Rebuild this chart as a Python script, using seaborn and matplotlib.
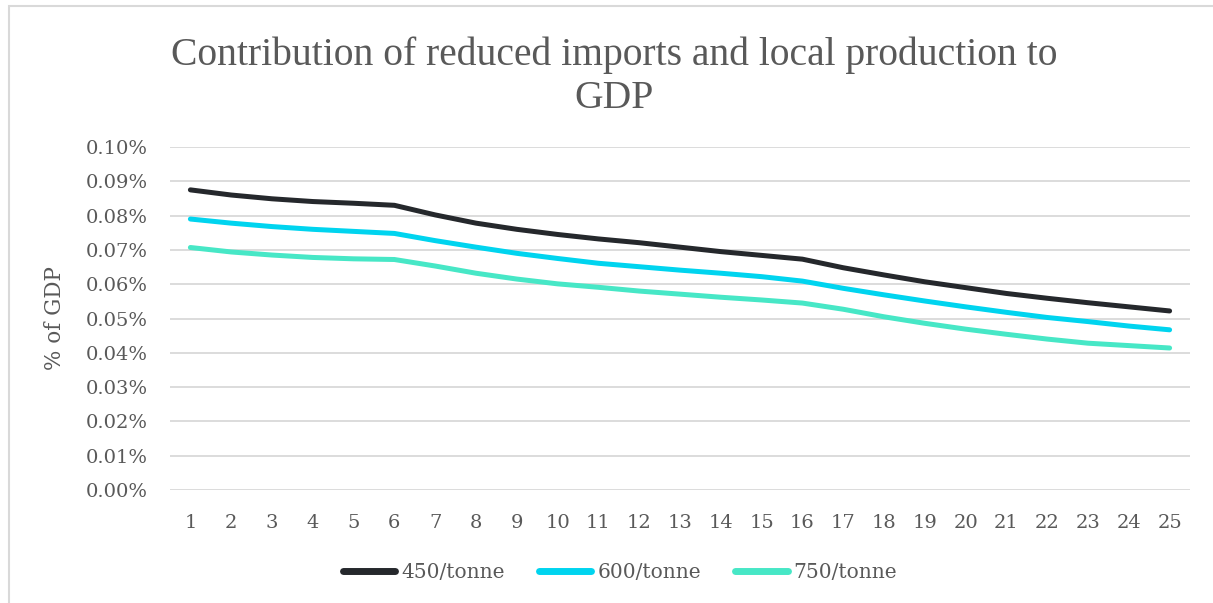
import matplotlib
matplotlib.use("Agg")
import matplotlib.pyplot as plt
import matplotlib.ticker as mticker
from matplotlib.patches import Rectangle
import pandas as pd
import seaborn as sns

# Years of the projection horizon
years = list(range(1, 26))

# Contribution to GDP (in %) under three carbon-price scenarios
price_450 = [0.0875, 0.0860, 0.0849, 0.0841, 0.0836, 0.0830, 0.0802, 0.0778, 0.0760, 0.0745,
             0.0732, 0.0721, 0.0708, 0.0695, 0.0684, 0.0673, 0.0648, 0.0627, 0.0607, 0.0590,
             0.0573, 0.0559, 0.0546, 0.0534, 0.0522]
price_600 = [0.0790, 0.0778, 0.0768, 0.0760, 0.0754, 0.0748, 0.0727, 0.0708, 0.0690, 0.0675,
             0.0661, 0.0651, 0.0641, 0.0632, 0.0622, 0.0609, 0.0588, 0.0569, 0.0551, 0.0534,
             0.0518, 0.0503, 0.0491, 0.0478, 0.0467]
price_750 = [0.0707, 0.0694, 0.0685, 0.0678, 0.0674, 0.0672, 0.0653, 0.0632, 0.0615, 0.0601,
             0.0591, 0.0580, 0.0571, 0.0562, 0.0554, 0.0545, 0.0527, 0.0505, 0.0486, 0.0469,
             0.0454, 0.0440, 0.0428, 0.0421, 0.0414]

series_names = ["450/tonne", "600/tonne", "750/tonne"]
series_colors = ["#25282c", "#00d4ef", "#47e7c6"]

df = pd.concat([
    pd.DataFrame({"year": years, "value": vals, "scenario": name})
    for name, vals in zip(series_names, [price_450, price_600, price_750])
])

sns.set_theme(style="white")
plt.rcParams["font.family"] = ["DejaVu Serif"]
text_color = "#595959"

fig = plt.figure(figsize=(12.13, 6.03), dpi=100)
ax = fig.add_axes([170 / 1213, 1 - 490 / 603, 1020 / 1213, 343 / 603])

sns.lineplot(data=df, x="year", y="value", hue="scenario",
             palette=dict(zip(series_names, series_colors)),
             linewidth=3.6, ax=ax, legend=True)
for line in ax.get_lines():
    line.set_solid_capstyle("round")
    line.set_solid_joinstyle("round")

ax.set_xlim(0.5, 25.5)
ax.set_ylim(0, 0.1)
ax.set_xticks(years)
ax.set_xticklabels([str(y) for y in years])
ax.yaxis.set_major_locator(mticker.MultipleLocator(0.01))
ax.yaxis.set_major_formatter(mticker.FuncFormatter(lambda v, _: f"{v:.2f}%"))
ax.grid(axis="y", color="#d9d9d9", linewidth=1.3)
ax.set_axisbelow(True)
for s in ax.spines.values():
    s.set_visible(False)
ax.tick_params(axis="both", length=0, labelsize=14, colors=text_color)
ax.tick_params(axis="y", pad=16)
ax.tick_params(axis="x", pad=17)

ax.set_xlabel("")
ax.set_ylabel("% of GDP", fontsize=15.5, color=text_color)
ax.yaxis.set_label_coords(-104 / 1020, 0.5)

handles, labels = ax.get_legend_handles_labels()
leg = ax.legend(handles, labels, loc="center", bbox_to_anchor=(620 / 1213, 1 - 573 / 603),
                bbox_transform=fig.transFigure, ncol=3, frameon=False, fontsize=14.5,
                handlelength=2.6, handletextpad=0.3, columnspacing=1.7,
                labelcolor=text_color)
for h in leg.get_lines():
    h.set_linewidth(5)
    h.set_solid_capstyle("round")

fig.text(614 / 1213, 1 - 77 / 603,
         "Contribution of reduced imports and local production to\nGDP",
         ha="center", va="center", fontsize=28.5, color=text_color,
         family="Liberation Serif", linespacing=1.2)

# Light frame around the chart area
fig.patches.append(Rectangle((9 / 1213, -0.05), 1.1, 1 - 6 / 603 + 0.05,
                             transform=fig.transFigure, fill=False,
                             edgecolor="#d9d9d9", linewidth=1.5, zorder=0))

fig.savefig("out.png", dpi=100, facecolor="white")
